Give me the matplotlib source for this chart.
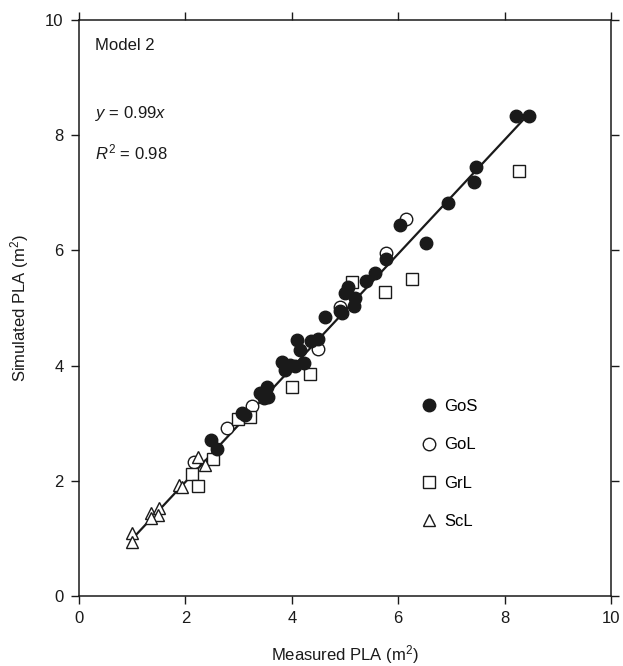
import matplotlib
matplotlib.use("Agg")
import matplotlib.pyplot as plt
import numpy as np

plt.rcParams['font.family'] = ['Liberation Sans', 'DejaVu Sans']
plt.rcParams['mathtext.fontset'] = 'custom'
plt.rcParams['mathtext.rm'] = 'Liberation Sans'
plt.rcParams['mathtext.it'] = 'Liberation Sans:italic'

# ---- data ----
gos_x = [2.49, 2.59, 3.06, 3.12, 3.40, 3.53, 3.56, 3.48, 3.81, 3.87, 3.97, 4.06, 4.22, 4.09,
         4.15, 4.37, 4.50, 4.62, 4.91, 4.95, 5.00, 5.06, 5.18, 5.17, 5.39, 5.56, 5.77, 6.03,
         6.53, 6.93, 7.42, 7.47, 8.21, 8.46]
gos_y = [2.70, 2.56, 3.17, 3.15, 3.52, 3.63, 3.46, 3.43, 4.07, 3.92, 4.01, 4.00, 4.04, 4.44,
         4.27, 4.42, 4.47, 4.85, 4.94, 4.92, 5.26, 5.37, 5.17, 5.03, 5.47, 5.60, 5.85, 6.44,
         6.12, 6.82, 7.19, 7.44, 8.33, 8.33]

gol_x = [2.17, 2.79, 3.26, 4.50, 4.91, 5.77, 6.15]
gol_y = [2.33, 2.92, 3.29, 4.28, 5.02, 5.95, 6.54]

grl_x = [2.12, 2.24, 2.52, 2.98, 3.21, 4.01, 4.34, 5.14, 5.75, 6.25, 8.28]
grl_y = [2.11, 1.91, 2.37, 3.08, 3.10, 3.62, 3.86, 5.46, 5.27, 5.50, 7.38]

scl_x = [1.00, 1.00, 1.35, 1.50, 1.49, 1.35, 1.88, 1.94, 2.24, 2.37]
scl_y = [1.09, 0.94, 1.44, 1.52, 1.41, 1.35, 1.93, 1.90, 2.42, 2.28]

slope = 0.99
r2 = 0.98
ticks = [0, 2, 4, 6, 8, 10]

# ---- figure ----
fig = plt.figure(figsize=(6.23, 6.66), dpi=100)
ax = fig.add_axes([79/623, 1 - 596/666, (611-79)/623, (596-20)/666])

all_x = gos_x + gol_x + grl_x + scl_x
xl = np.array([min(all_x), max(all_x)])
ax.plot(xl, slope * xl, color='#1a1a1a', lw=1.6, zorder=1)

ax.plot(gos_x, gos_y, 'o', ms=9, mfc='#1a1a1a', mec='#1a1a1a', mew=1.0, ls='none', label='GoS', zorder=3)
ax.plot(gol_x, gol_y, 'o', ms=9, mfc='white', mec='#1a1a1a', mew=1.0, ls='none', label='GoL', zorder=2)
ax.plot(grl_x, grl_y, 's', ms=8.5, mfc='white', mec='#1a1a1a', mew=1.0, ls='none', label='GrL', zorder=2)
ax.plot(scl_x, scl_y, '^', ms=9, mfc='white', mec='#1a1a1a', mew=1.0, ls='none', label='ScL', zorder=2)

ax.set_xlim(0, 10)
ax.set_ylim(0, 10)
ax.set_xticks(ticks)
ax.set_yticks(ticks)
ax.tick_params(direction='out', length=6, width=1, labelsize=12, colors='#1a1a1a',
               top=True, right=True, labeltop=False, labelright=False, pad=5)
for s in ax.spines.values():
    s.set_linewidth(1.1)
    s.set_color('#1a1a1a')

ax.set_xlabel('Measured PLA (m$^2$)', fontsize=12, color='#1a1a1a', labelpad=12)
ax.set_ylabel('Simulated PLA (m$^2$)', fontsize=12, color='#1a1a1a', labelpad=10)

ax.text(0.03, 0.955, 'Model 2', transform=ax.transAxes, fontsize=12, va='center', ha='left', color='#1a1a1a')
ax.text(0.03, 0.838, '$y$ = %.2f$x$' % slope, transform=ax.transAxes, fontsize=12, va='center', ha='left', color='#1a1a1a')
ax.text(0.03, 0.770, '$R^2$ = %.2f' % r2, transform=ax.transAxes, fontsize=12, va='center', ha='left', color='#1a1a1a')

leg = ax.legend(loc='upper left', bbox_to_anchor=(0.64, 0.342), frameon=False, fontsize=12,
                handletextpad=0.3, labelspacing=1.4, handlelength=1.2, borderpad=0, borderaxespad=0)

fig.savefig('out.png', dpi=100)
